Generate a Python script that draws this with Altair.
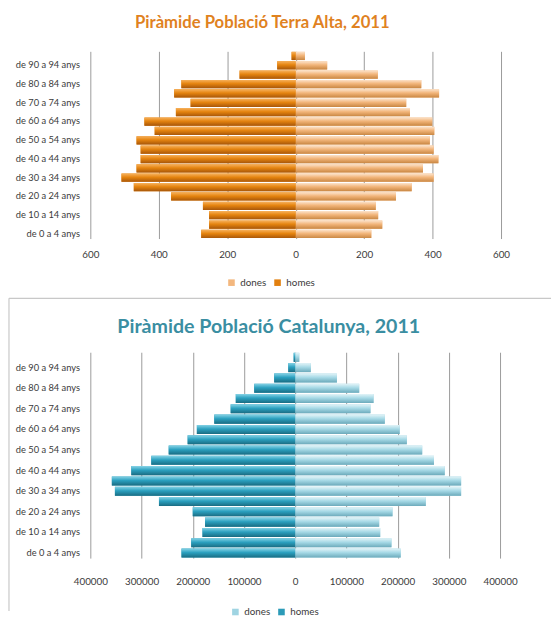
import altair as alt
import pandas as pd

ages = ["de 0 a 4 anys", "de 5 a 9 anys", "de 10 a 14 anys", "de 15 a 19 anys",
        "de 20 a 24 anys", "de 25 a 29 anys", "de 30 a 34 anys", "de 35 a 39 anys",
        "de 40 a 44 anys", "de 45 a 49 anys", "de 50 a 54 anys", "de 55 a 59 anys",
        "de 60 a 64 anys", "de 65 a 69 anys", "de 70 a 74 anys", "de 75 a 79 anys",
        "de 80 a 84 anys", "de 85 a 89 anys", "de 90 a 94 anys", "95 anys i més"]
tick_labels = ages[0:19:2]

ta_homes = [276, 253, 253, 271, 364, 473, 509, 465, 453, 453,
            465, 412, 442, 350, 307, 355, 334, 164, 54, 12]
ta_dones = [221, 253, 241, 234, 293, 339, 403, 372, 417, 403,
            392, 405, 399, 334, 323, 419, 367, 240, 92, 27]

cat_homes = [222000, 203000, 181000, 176000, 200000, 266000, 352000, 358000, 320000, 281000,
             247000, 210000, 192000, 158000, 126000, 116000, 80000, 41000, 13500, 3000]
cat_dones = [206000, 188000, 166000, 164000, 190000, 255000, 324000, 324000, 292000, 271000,
             248000, 218000, 204000, 175000, 147000, 153000, 125000, 81500, 30500, 8000]

top_ticks = [-600, -400, -200, 0, 200, 400, 600]
bot_ticks = [-400000, -300000, -200000, -100000, 0, 100000, 200000, 300000, 400000]

FONT = "Lato"


def frame(homes, dones):
    rows = []
    for a, h, d in zip(ages, homes, dones):
        rows.append({"edat": a, "sexe": "dones", "valor": d})
        rows.append({"edat": a, "sexe": "homes", "valor": -h})
    return pd.DataFrame(rows)


def grad(c1, c2, c3):
    return alt.Gradient(gradient="linear", x1=0, x2=0, y1=0, y2=1,
                        stops=[alt.GradientStop(offset=0, color=c1),
                               alt.GradientStop(offset=0.45, color=c2),
                               alt.GradientStop(offset=1, color=c3)])


def pyramid(df, ticks, dom, w, h, title, tcolor, tsize, tdx, toff, cols, grads,
            lx, ly, labpad, frame_rules=False):
    y = alt.Y("edat:N", sort=list(reversed(ages)), title=None,
              scale=alt.Scale(paddingInner=0.12, paddingOuter=0.05),
              axis=alt.Axis(values=tick_labels, domain=False, ticks=False,
                            labelFont=FONT, labelFontSize=9.5, labelColor="#3a3a3a",
                            labelPadding=11))
    x = alt.X("valor:Q", title=None,
              scale=alt.Scale(domain=dom, nice=False),
              axis=alt.Axis(values=ticks, domain=False, ticks=False,
                            labelExpr="format(abs(datum.value), 'd')",
                            labelOverlap=False, labelFlush=False,
                            labelFont=FONT, labelFontSize=10, labelColor="#3a3a3a",
                            labelPadding=labpad, grid=True, gridColor="#9a9a9a",
                            gridWidth=1))
    base = alt.Chart(df).mark_bar().encode(
        x=x, y=y,
        color=alt.Color("sexe:N", title=None,
                        scale=alt.Scale(domain=["dones", "homes"], range=cols),
                        legend=alt.Legend(orient="none", direction="horizontal",
                                          legendX=lx, legendY=ly,
                                          symbolType="square", symbolSize=45,
                                          labelFont=FONT, labelFontSize=10,
                                          labelColor="#3a3a3a", columnPadding=6,
                                          symbolStrokeWidth=0)))
    ov_d = alt.Chart(df).transform_filter("datum.sexe == 'dones'").mark_bar(
        color=grads[0]).encode(x=x, y=y)
    ov_h = alt.Chart(df).transform_filter("datum.sexe == 'homes'").mark_bar(
        color=grads[1]).encode(x=x, y=y)
    layers = [base, ov_d, ov_h]
    if frame_rules:
        one = pd.DataFrame({"k": [0]})
        hr = alt.Chart(one).mark_rule(color="#c8c8c8", strokeWidth=1.2).encode(
            x=alt.value(-83), x2=alt.value(470), y=alt.value(252))
        vr = alt.Chart(one).mark_rule(color="#c8c8c8", strokeWidth=1.2).encode(
            x=alt.value(-83), y=alt.value(252), y2=alt.value(571))
        layers = layers + [hr, vr]
    return alt.layer(*layers).properties(
        width=w, height=h,
        title=alt.TitleParams(title, font=FONT, fontSize=tsize, fontWeight="bold",
                              color=tcolor, anchor="middle", frame="group",
                              dx=tdx, offset=toff))


top = pyramid(frame(ta_homes, ta_dones), top_ticks, [-600, 600], 419, 191,
              "Piràmide Població Terra Alta, 2011", "#E0821F", 17, -34, 20,
              ["#F3B77E", "#E2800F"],
              [grad("#FCE3CB", "#F2B57A", "#C98743"), grad("#F7B15C", "#E5840F", "#A8570A")],
              139, 231, 11, frame_rules=True)

bot = pyramid(frame(cat_homes, cat_dones), bot_ticks, [-400000, 400000], 418, 210,
              "Piràmide Població Catalunya, 2011", "#3A8EA2", 20, -27, 16,
              ["#9FD4E2", "#2C9BB8"],
              [grad("#E3F4F8", "#A6D9E6", "#6CAABB"), grad("#86D3E6", "#2BA0BF", "#1A6C82")],
              143, 260, 19)

chart = alt.vconcat(top, bot, spacing=116, bounds="flush").resolve_scale(
    color="independent").resolve_legend(color="independent").configure_view(
    stroke=None).properties(
    padding={"left": 0, "top": 0, "right": 0, "bottom": 0}, background="white")

chart.save("out.html", embed_options={"renderer": "svg", "actions": False})
